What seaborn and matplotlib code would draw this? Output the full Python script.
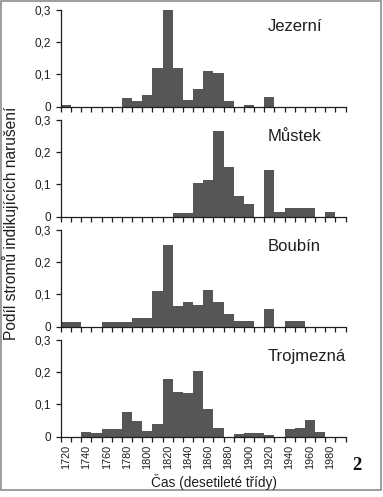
import numpy as np
import pandas as pd
import matplotlib
matplotlib.use("Agg")
import matplotlib.pyplot as plt
from matplotlib.patches import Rectangle
import seaborn as sns

# decade classes (x categories)
decades = [1720, 1730, 1740, 1750, 1760, 1770, 1780, 1790, 1800, 1810,
           1820, 1830, 1840, 1850, 1860, 1870, 1880, 1890, 1900, 1910,
           1920, 1930, 1940, 1950, 1960, 1970, 1980, 1990]

# share of trees indicating disturbance, per site
jezerni = [0.005, 0, 0, 0, 0, 0, 0.028, 0.017, 0.037, 0.12,
           0.30, 0.12, 0.02, 0.054, 0.112, 0.103, 0.019, 0, 0.004, 0,
           0.029, 0, 0, 0, 0, 0, 0, 0]
mustek = [0, 0, 0, 0, 0, 0, 0, 0, 0, 0,
          0, 0.012, 0.012, 0.105, 0.114, 0.267, 0.155, 0.064, 0.039, 0,
          0.144, 0.014, 0.028, 0.028, 0.028, 0, 0.014, 0]
boubin = [0.015, 0.015, 0, 0, 0.015, 0.015, 0.015, 0.028, 0.028, 0.11,
          0.253, 0.064, 0.078, 0.066, 0.115, 0.078, 0.04, 0.017, 0.017, 0,
          0.054, 0, 0.017, 0.017, 0, 0, 0, 0]
trojmezna = [0, 0, 0.016, 0.01, 0.023, 0.023, 0.077, 0.048, 0.017, 0.039,
             0.178, 0.139, 0.137, 0.205, 0.087, 0.027, 0, 0.008, 0.01, 0.01,
             0.006, 0, 0.023, 0.027, 0.052, 0.014, 0, 0]

sites = ["Jezerní", "Můstek", "Boubín", "Trojmezná"]
series = [jezerni, mustek, boubin, trojmezna]

yticks = [0, 0.1, 0.2, 0.3]
ytick_labels = ["0", "0,1", "0,2", "0,3"]

sns.set_style("ticks")
plt.rcParams["font.family"] = ["Liberation Sans", "DejaVu Sans"]

bar_color = "#565656"
ink = "#1e1e1e"

W, H = 383, 497
fig = plt.figure(figsize=(W / 100, H / 100), dpi=100)

left_px, right_px = 61, 345.5
for k, (name, vals) in enumerate(zip(sites, series)):
    top_px = 10 + 110 * k
    bot_px = 106.7 + 110 * k
    ax = fig.add_axes([left_px / W, 1 - bot_px / H,
                       (right_px - left_px) / W, (bot_px - top_px) / H])
    df = pd.DataFrame({"decade": [str(d) for d in decades], "share": vals})
    sns.barplot(data=df, x="decade", y="share", color=bar_color,
                saturation=1, width=1, errorbar=None, ax=ax, linewidth=0)

    ax.set_xlim(-0.5, len(decades) - 0.5)
    ax.set_ylim(0, 0.3)
    ax.set_yticks(yticks, labels=ytick_labels)
    ax.tick_params(axis="y", direction="out", length=3.5, width=0.9,
                   pad=3.5, labelsize=8.5, colors=ink)

    # labels centred on every second decade, tick marks on class borders
    major = list(range(0, len(decades), 2))
    if k == 3:
        ax.set_xticks(major, labels=[str(decades[i]) for i in major])
    else:
        ax.set_xticks(major, labels=[])
    ax.set_xticks(np.arange(-0.5, len(decades), 1), minor=True)
    ax.tick_params(axis="x", which="major", length=0, pad=6,
                   labelsize=7.8, labelrotation=90, colors=ink)
    ax.tick_params(axis="x", which="minor", direction="out", length=3.5,
                   width=0.9, color=ink)

    ax.set_xlabel("")
    ax.set_ylabel("")
    sns.despine(ax=ax)
    for s in ["left", "bottom"]:
        ax.spines[s].set_color(ink)
        ax.spines[s].set_linewidth(0.9)

    ax.text(0.727, 0.786, name, transform=ax.transAxes, ha="left",
            va="baseline", fontsize=12, color=ink)

fig.text(11 / W, 1 - 223 / H, "Podíl stromů indikujících narušení",
         rotation=90, ha="center", va="center", fontsize=11.2, color=ink)
fig.text(214 / W, 1 - 482 / H, "Čas (desetileté třídy)",
         ha="center", va="center", fontsize=9.8, color=ink)
fig.text(357 / W, 1 - 465 / H, "2", ha="center", va="center",
         fontsize=13.5, fontweight="bold", family="Liberation Serif",
         color="#111111")

# thin grey frame round the whole figure
fig.patches.append(Rectangle((1 / W, 1 - 490 / H), 380 / W, 489 / H,
                             transform=fig.transFigure, fill=False,
                             edgecolor="#8c8c8c", linewidth=1.2))

fig.savefig("out.png", dpi=100)
